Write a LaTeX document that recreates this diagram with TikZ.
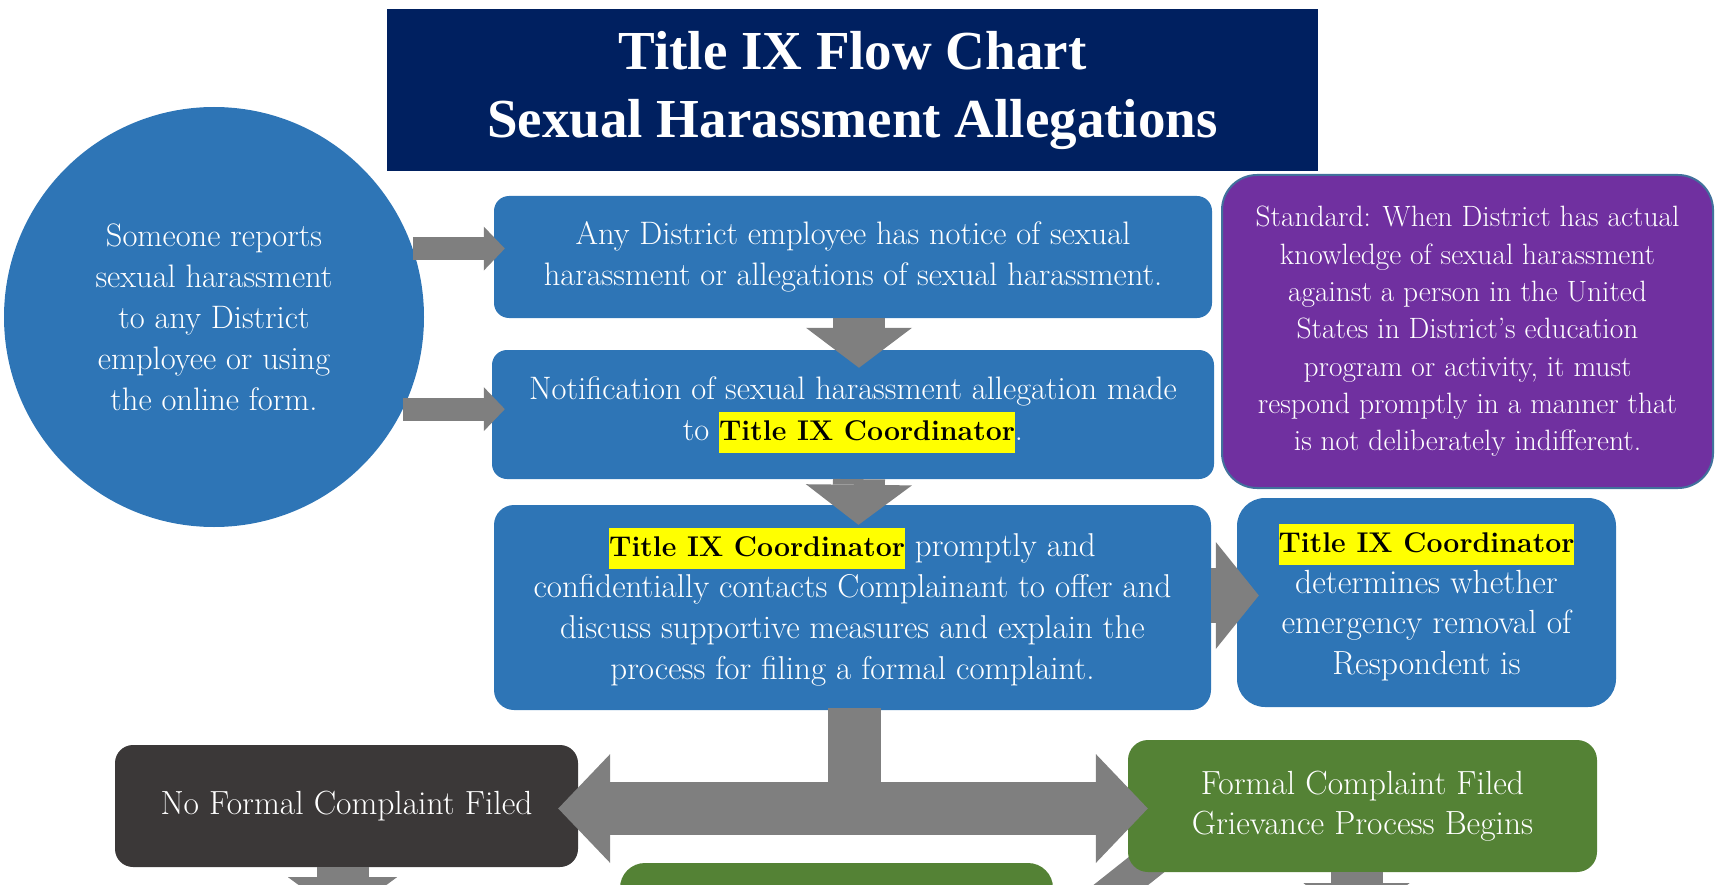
\documentclass[tikz,border=0pt]{standalone}
\usepackage{fontspec}
\usepackage{xcolor}
\usetikzlibrary{arrows.meta,calc,backgrounds}
\newfontfamily\titlefont{Liberation Serif}
\definecolor{navy}{HTML}{002060}
\definecolor{tixblue}{HTML}{2E75B6}
\definecolor{tixpurple}{HTML}{7030A0}
\definecolor{purpleedge}{HTML}{41719C}
\definecolor{tixdark}{HTML}{3B3838}
\definecolor{tixgreen}{HTML}{548235}
\definecolor{arrowgray}{HTML}{7F7F7F}
\definecolor{hlyellow}{HTML}{FFFF00}
\newcommand{\tixhl}{{\setlength{\fboxsep}{0pt}\colorbox{hlyellow}{\color{black}\bfseries\fontsize{28.5}{41}\selectfont\strut Title IX Coordinator}}}

\begin{document}
\begin{tikzpicture}[x=1pt, y=-1pt,
  box/.style={rectangle, rounded corners=15pt, fill=tixblue, text=white, align=center, inner sep=0pt, font=\fontsize{32.5}{41}\selectfont},
  bigtext/.style={font=\fontsize{33.5}{40.5}\selectfont},
  fat/.style={draw=arrowgray, line width=52pt, -{Triangle[length=40pt,width=106pt,line width=0pt]}},
  slim/.style={draw=arrowgray, line width=23pt, -{Triangle[length=21pt,width=44pt,line width=0pt]}}]
\useasboundingbox (0,0) rectangle (1715,885);

\node[rectangle, fill=navy, text=white, align=center, minimum width=931pt, minimum height=162pt, font=\titlefont\bfseries\fontsize{55}{68}\selectfont] (title) at (852.5,90) {Title IX Flow Chart\\Sexual Harassment Allegations};

\node[box, circle, minimum size=420pt] (report) at (214,317) {Someone reports\\sexual harassment\\to any District\\employee or using\\the online form.};

\node[box, minimum width=718pt, minimum height=122pt] (notice) at (853,257) {Any District employee has notice of sexual\\harassment or allegations of sexual harassment.};
\node[box, minimum width=722pt, minimum height=129pt] (notify) at (853,414.5) {Notification of sexual harassment allegation made\\to \tixhl.};
\node[box, rounded corners=20pt, minimum width=717pt, minimum height=205pt, font=\fontsize{33}{41}\selectfont] (contact) at (852.5,607.5) {\tixhl{} promptly and\\confidentially contacts Complainant to offer and\\discuss supportive measures and explain the\\process for filing a formal complaint.};

\node[box, fill=tixpurple, draw=purpleedge, line width=2pt, rounded corners=35pt, minimum width=491pt, minimum height=313pt, font=\fontsize{29.4}{37.3}\selectfont] (standard) at (1467.5,331.5) {Standard: When District has actual\\knowledge of sexual harassment\\against a person in the United\\States in District's education\\program or activity, it must\\respond promptly in a manner that\\is not deliberately indifferent.};
\node[box, bigtext, rounded corners=28pt, minimum width=379pt, minimum height=209pt] (removal) at (1426.5,602.5) {\tixhl\\determines whether\\emergency removal of\\Respondent is};

\node[box, bigtext, fill=tixdark, rounded corners=18pt, minimum width=463pt, minimum height=122pt] (noformal) at (346.5,806) {No Formal Complaint Filed};
\node[box, bigtext, fill=tixgreen, rounded corners=20pt, minimum width=469pt, minimum height=132pt] (formal) at (1362.5,806) {Formal Complaint Filed\\Grievance Process Begins};
\node[box, fill=tixgreen, rounded corners=25pt, minimum width=433pt, minimum height=124pt] (nextstep) at (836.5,925) {};

\draw[slim] (report.19) -- ($(report.19 -| notice.west)+(11,0)$);
\draw[slim] (report.-26) -- ($(report.-26 -| notify.west)+(13,0)$);

\draw[fat] ($(notice.south)+(6,0)$) -- ($(notify.north)+(6,18)$);
\draw[fat] ($(notify.south)+(6,0)$) -- ($(contact.north)+(6,20)$);
\draw[fat, line width=55pt, -{Triangle[length=43pt,width=107pt,line width=0pt]}] ($(contact.east)+(0,-12)$) -- ($(removal.west)+(22,-7)$);

\draw[arrowgray, line width=53pt] ($(contact.south)+(2,-2)$) -- ($(contact.south |- noformal.east)+(2,2)$);
\draw[fat, line width=53pt, {Triangle[length=52pt,width=109pt,line width=0pt]}-{Triangle[length=52pt,width=109pt,line width=0pt]}] ($(noformal.east)+(-20,2.5)$) -- ($(formal.west)+(20,2.5)$);

\draw[fat, -{Triangle[length=40pt,width=109pt,line width=0pt]}] ($(noformal.south)+(-4,0)$) -- ($(noformal.south)+(-4,50)$);
\draw[fat] ($(formal.south)+(-6,0)$) -- ($(formal.south)+(-6,51)$);

\begin{pgfonlayer}{background}
\draw[fat, line width=34pt] ($(formal.south west)+(57,-38)$) -- ($(nextstep.east)+(-8,20)$);
\end{pgfonlayer}

\end{tikzpicture}
\end{document}
